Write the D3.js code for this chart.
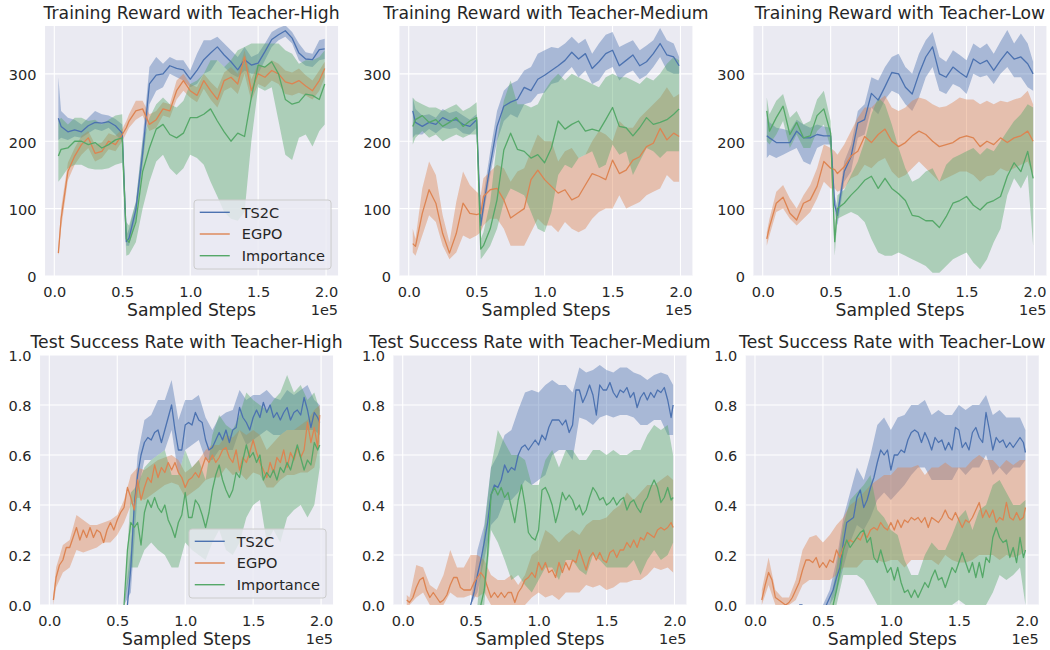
<!DOCTYPE html>
<html>
<head>
<meta charset="utf-8">
<script src="https://cdn.jsdelivr.net/npm/d3@7"></script>
<style>
body { margin: 0; background: #fff; }
svg { font-family: "DejaVu Sans", sans-serif; }
</style>
</head>
<body>
<script>
// x positions, in units of 1e5 sampled steps
var xTop = [0.03,0.05,0.1,0.15,0.2,0.25,0.3,0.35,0.4,0.45,0.5,0.53,0.55,0.6,0.65,0.7,0.75,0.8,0.85,0.9,0.95,1.0,1.05,1.1,1.15,1.2,1.25,1.3,1.35,1.4,1.45,1.5,1.55,1.6,1.65,1.7,1.75,1.8,1.85,1.9,1.95,1.99];
var xFine = [0.03,0.05,0.075,0.1,0.125,0.15,0.175,0.2,0.225,0.25,0.275,0.3,0.325,0.35,0.375,0.4,0.425,0.45,0.475,0.5,0.525,0.55,0.575,0.6,0.625,0.65,0.675,0.7,0.725,0.75,0.775,0.8,0.825,0.85,0.875,0.9,0.925,0.95,0.975,1.0,1.025,1.05,1.075,1.1,1.125,1.15,1.175,1.2,1.225,1.25,1.275,1.3,1.325,1.35,1.375,1.4,1.425,1.45,1.475,1.5,1.525,1.55,1.575,1.6,1.625,1.65,1.675,1.7,1.725,1.75,1.775,1.8,1.825,1.85,1.875,1.9,1.925,1.95,1.975,1.99];
var xBand = [0.03,0.05,0.1,0.15,0.2,0.25,0.3,0.35,0.4,0.45,0.5,0.55,0.6,0.65,0.7,0.75,0.8,0.85,0.9,0.95,1.0,1.05,1.1,1.15,1.2,1.25,1.3,1.35,1.4,1.45,1.5,1.55,1.6,1.65,1.7,1.75,1.8,1.85,1.9,1.95,1.99];

var xTicks = [0, 0.5, 1.0, 1.5, 2.0];
var rewardTicks = [0, 100, 200, 300];
var rateTicks = [0, 0.2, 0.4, 0.6, 0.8, 1.0];
var names = ["TS2C", "EGPO", "Importance"];
var titles = ["Training Reward with Teacher-High", "Training Reward with Teacher-Medium", "Training Reward with Teacher-Low",
              "Test Success Rate with Teacher-High", "Test Success Rate with Teacher-Medium", "Test Success Rate with Teacher-Low"];

// Training reward, teacher high
var p1ts   = [234,222,214,217,214,223,228,227,229,223,212,51,56,98,182,285,298,300,312,308,306,292,305,321,331,340,328,318,306,321,313,316,333,351,358,364,353,331,322,321,336,337];
var p1tsLo = [202,205,202,207,205,212,218,215,220,210,200,45,45,85,165,255,275,280,300,295,290,280,285,300,305,320,310,300,295,305,300,300,320,340,350,355,345,320,312,310,320,322];
var p1tsHi = [295,245,235,232,225,235,245,240,238,233,225,60,70,110,205,310,325,315,325,320,320,305,330,350,350,355,345,335,325,340,325,330,345,362,368,372,362,345,332,330,350,352];
var p1eg   = [34,85,155,178,195,205,182,185,200,195,210,220,230,245,248,225,232,248,245,275,290,275,268,290,275,262,290,295,285,325,275,300,295,305,300,288,285,290,282,275,290,308];
var p1egLo = [30,70,142,165,180,190,170,175,188,185,200,212,220,232,238,215,220,238,235,262,275,265,258,278,262,250,275,280,270,300,260,285,280,290,285,270,268,272,268,262,275,295];
var p1egHi = [40,100,168,190,208,215,195,198,212,208,218,230,240,260,260,240,245,258,255,290,300,285,280,300,288,278,302,310,300,335,292,315,310,320,315,305,302,308,298,290,305,318];
var p1im   = [178,188,190,200,200,195,198,190,195,202,205,55,50,80,155,190,218,225,210,205,212,235,235,240,248,230,214,200,212,207,265,313,310,318,300,262,255,258,270,268,262,285];
var p1imLo = [140,145,160,165,165,160,158,158,160,165,168,30,32,50,100,140,170,180,160,150,160,180,175,165,140,118,95,85,82,95,200,280,275,280,230,180,172,205,210,192,215,225];
var p1imHi = [230,235,225,235,235,230,232,225,232,238,240,80,75,110,200,235,255,265,255,250,260,285,290,300,320,320,310,320,335,340,345,345,345,345,345,335,330,315,320,320,325,335];

// Training reward, teacher medium
var p2ts   = [245,228,222,228,225,235,230,232,225,222,232,75,103,165,222,252,258,262,280,275,292,298,305,312,320,332,322,330,308,318,330,335,312,320,328,312,318,330,345,328,325,312];
var p2tsLo = [205,210,210,218,212,220,218,220,212,210,220,65,90,150,200,230,240,235,255,258,270,272,285,288,300,310,295,305,285,290,305,310,290,300,305,292,298,310,325,305,300,300];
var p2tsHi = [265,248,238,240,235,248,242,245,238,232,240,90,120,185,245,275,285,290,305,310,330,335,340,338,345,355,345,352,330,345,358,362,340,345,350,335,342,350,368,350,345,325];
var p2eg   = [48,44,93,128,108,63,34,63,108,93,91,93,118,128,130,113,86,93,100,143,157,143,133,123,128,113,118,135,152,148,143,172,152,157,172,177,192,197,219,202,212,207];
var p2egLo = [35,30,60,90,80,45,25,35,60,55,60,65,75,85,85,70,45,45,45,65,85,75,75,65,80,70,65,70,85,95,100,100,120,100,105,110,120,125,130,150,140,140];
var p2egHi = [70,55,130,170,150,90,50,110,155,135,125,120,145,155,165,160,140,155,160,185,210,200,200,170,185,190,175,180,200,215,210,200,230,220,220,235,245,255,265,280,265,270];
var p2im   = [222,232,238,228,232,222,228,235,222,230,235,40,45,70,113,187,212,188,185,175,180,168,190,230,218,225,230,215,218,215,232,250,222,220,208,220,235,225,228,232,240,248];
var p2imLo = [195,205,215,205,210,200,205,210,205,210,210,25,30,45,70,110,130,125,120,95,70,65,95,150,165,160,175,180,185,160,165,195,180,185,150,170,190,185,175,185,185,185];
var p2imHi = [265,260,255,250,250,245,250,255,245,250,258,55,65,110,200,260,290,255,255,250,255,275,290,300,290,300,295,290,285,280,295,300,295,295,290,285,295,290,300,315,325,320];

// Training reward, teacher low
var p3ts   = [208,205,198,198,198,215,205,205,210,208,208,105,90,155,177,227,232,271,261,281,302,300,280,270,300,325,340,300,295,310,302,295,322,315,320,305,320,333,322,325,315,300];
var p3tsLo = [175,180,175,180,185,190,170,165,190,195,195,95,75,140,155,205,210,250,240,262,275,270,255,245,265,295,310,275,270,285,280,270,300,295,298,285,300,310,295,295,280,275];
var p3tsHi = [240,228,220,218,215,232,225,220,225,222,220,120,100,170,195,245,255,295,290,310,325,330,310,300,330,350,362,325,318,335,328,320,345,338,345,330,348,365,345,360,345,318];
var p3eg   = [55,73,108,117,93,83,108,113,133,170,160,158,152,162,178,185,207,198,210,218,200,192,198,208,215,210,200,192,195,198,205,208,205,192,200,195,205,198,205,208,215,200];
var p3egLo = [45,60,95,100,85,75,85,95,115,140,130,130,125,130,145,150,165,160,170,175,155,145,150,160,170,160,150,140,145,150,155,155,150,140,148,150,160,155,160,165,170,150];
var p3egHi = [65,85,125,135,115,100,120,135,160,195,190,185,180,195,215,235,250,250,260,268,250,245,250,260,265,262,255,250,252,258,265,262,262,255,260,255,260,258,262,265,275,255];
var p3im   = [245,215,235,252,210,228,205,208,238,248,212,51,100,108,120,130,142,148,130,145,130,122,112,90,88,82,82,72,88,108,112,118,105,98,108,112,118,148,168,155,185,145];
var p3imLo = [200,195,210,230,190,210,190,190,215,225,190,30,85,90,95,90,80,55,35,30,30,35,30,25,20,15,5,5,15,25,30,35,20,10,25,50,70,120,145,130,150,45];
var p3imHi = [265,240,260,270,235,245,225,230,262,275,230,70,120,128,150,170,200,240,265,255,225,190,160,140,145,155,160,140,165,175,180,185,190,180,190,185,200,215,230,240,255,250];

// Test success rate, teacher high (means on xFine, bands on xBand)
var p4ts = [null,null,null,null,null,null,null,null,null,null,
            null,null,null,null,null,null,null,null,null,null,
            null,null,0.0,0.15,0.40,0.52,0.60,0.65,0.67,0.66,
            0.69,0.70,0.65,0.70,0.75,0.80,0.70,0.62,0.62,0.72,
            0.73,0.72,0.77,0.74,0.73,0.66,0.62,0.63,0.66,0.69,
            0.66,0.70,0.65,0.70,0.71,0.79,0.75,0.73,0.70,0.75,
            0.78,0.75,0.81,0.77,0.80,0.75,0.77,0.74,0.77,0.79,
            0.74,0.77,0.78,0.76,0.83,0.78,0.71,0.77,0.75,0.73];
var p4tsLo = [null,null,null,null,null,null,null,null,null,null,null,0,
              0.05,0.45,0.58,0.58,0.60,0.62,0.70,0.52,0.62,0.64,0.66,0.58,0.58,0.62,0.62,0.62,0.70,0.64,0.66,0.68,0.70,0.68,0.68,0.70,0.70,0.70,0.70,0.70,0.68];
var p4tsHi = [null,null,null,null,null,null,null,null,null,null,null,0,
              0.22,0.60,0.74,0.76,0.82,0.82,0.90,0.74,0.82,0.82,0.84,0.75,0.70,0.75,0.77,0.78,0.86,0.82,0.84,0.84,0.86,0.83,0.82,0.86,0.84,0.86,0.88,0.82,0.80];
var p4eg = [0.02,0.11,0.16,0.18,0.23,0.23,0.27,0.31,0.26,0.30,
            0.27,0.31,0.27,0.30,0.29,0.25,0.30,0.33,0.30,0.34,
            0.37,0.39,0.47,0.43,0.38,0.50,0.42,0.47,0.51,0.49,
            0.56,0.51,0.55,0.53,0.57,0.54,0.57,0.53,0.51,0.47,
            0.50,0.51,0.53,0.51,0.55,0.59,0.57,0.60,0.57,0.59,
            0.62,0.63,0.59,0.57,0.62,0.54,0.59,0.57,0.61,0.66,
            0.61,0.57,0.54,0.51,0.57,0.53,0.59,0.57,0.62,0.55,
            0.61,0.58,0.63,0.59,0.62,0.73,0.65,0.71,0.63,0.76];
var p4egLo = [0.0,0.07,0.13,0.15,0.22,0.21,0.22,0.23,0.25,0.25,0.28,0.33,0.40,0.43,0.42,0.44,0.46,0.48,0.49,0.48,
              0.43,0.45,0.47,0.50,0.51,0.51,0.55,0.52,0.53,0.50,0.53,0.52,0.47,0.47,0.50,0.52,0.52,0.53,0.53,0.55,0.65];
var p4egHi = [0.04,0.15,0.24,0.26,0.36,0.34,0.32,0.32,0.33,0.34,0.36,0.42,0.52,0.55,0.54,0.56,0.58,0.59,0.60,0.58,
              0.53,0.55,0.58,0.62,0.64,0.64,0.68,0.67,0.70,0.68,0.70,0.68,0.62,0.65,0.68,0.70,0.70,0.72,0.74,0.78,0.80];
var p4im = [null,null,null,null,null,null,null,null,null,null,
            null,null,null,null,null,null,null,null,null,null,
            null,0.0,0.22,0.33,0.31,0.33,0.24,0.37,0.42,0.39,
            0.43,0.39,0.37,0.40,0.34,0.31,0.27,0.33,0.36,0.45,
            0.35,0.35,0.42,0.40,0.36,0.31,0.37,0.46,0.52,0.56,
            0.50,0.46,0.43,0.46,0.53,0.51,0.58,0.64,0.59,0.61,
            0.57,0.60,0.50,0.53,0.51,0.54,0.50,0.55,0.53,0.57,
            0.54,0.59,0.64,0.59,0.54,0.58,0.56,0.65,0.62,0.64];
var p4imLo = [null,null,null,null,null,null,null,null,null,null,null,0,
              0.15,0.15,0.22,0.25,0.22,0.20,0.15,0.15,0.25,0.22,0.20,0.18,0.25,0.30,0.22,0.20,0.25,0.35,0.40,0.42,0.25,0.30,0.25,0.35,0.38,0.40,0.35,0.40,0.55];
var p4imHi = [null,null,null,null,null,null,null,null,null,null,null,0,
              0.45,0.48,0.55,0.58,0.60,0.62,0.52,0.52,0.62,0.55,0.58,0.50,0.68,0.76,0.72,0.70,0.76,0.85,0.82,0.80,0.78,0.82,0.85,0.92,0.85,0.88,0.82,0.85,0.78];

// Test success rate, teacher medium
var p5ts = [null,null,null,null,null,null,null,null,null,null,
            null,null,null,null,null,null,null,null,null,0.0,
            0.05,0.12,0.18,0.25,0.33,0.44,0.48,0.47,0.50,0.56,
            0.53,0.55,0.54,0.60,0.63,0.64,0.62,0.64,0.66,0.64,
            0.68,0.66,0.71,0.74,0.74,0.74,0.72,0.74,0.69,0.72,
            0.86,0.86,0.81,0.84,0.88,0.84,0.76,0.88,0.86,0.86,
            0.89,0.85,0.83,0.86,0.85,0.87,0.83,0.85,0.79,0.83,
            0.85,0.82,0.85,0.83,0.86,0.85,0.87,0.82,0.75,0.80];
var p5tsLo = [null,null,null,null,null,null,null,null,null,null,0,0.05,
              0.18,0.32,0.35,0.42,0.42,0.45,0.50,0.48,0.50,0.52,0.60,0.62,0.62,0.58,0.75,0.74,0.72,0.75,0.76,0.75,0.76,0.76,0.75,0.72,0.72,0.74,0.74,0.68,0.68];
var p5tsHi = [null,null,null,null,null,null,null,null,null,null,0,0.22,
              0.32,0.55,0.60,0.68,0.70,0.78,0.85,0.86,0.85,0.88,0.90,0.88,0.88,0.85,0.95,0.93,0.94,0.96,0.94,0.93,0.95,0.95,0.93,0.92,0.90,0.92,0.93,0.92,0.88];
var p5eg = [0.02,0.01,0.03,0.07,0.10,0.11,0.06,0.03,0.05,0.03,
            0.01,0.02,0.04,0.08,0.11,0.11,0.07,0.06,0.06,0.06,
            0.09,0.11,0.13,0.11,0.07,0.03,0.05,0.03,0.05,0.03,
            0.05,0.05,0.01,0.05,0.07,0.10,0.11,0.13,0.11,0.17,
            0.14,0.17,0.13,0.14,0.11,0.17,0.13,0.17,0.14,0.18,
            0.17,0.22,0.18,0.14,0.19,0.21,0.18,0.21,0.18,0.17,
            0.21,0.22,0.19,0.22,0.22,0.25,0.23,0.26,0.23,0.27,
            0.26,0.29,0.28,0.27,0.30,0.31,0.30,0.31,0.33,0.31];
var p5egLo = [0.0,0.0,0.03,0.05,0.0,0.0,0.0,0.05,0.03,0.03,0.04,0.03,0.05,0.0,0.0,0.0,0.0,0.0,0.0,0.03,
              0.05,0.03,0.04,0.02,0.05,0.05,0.05,0.08,0.07,0.08,0.06,0.07,0.09,0.09,0.10,0.10,0.12,0.15,0.14,0.15,0.13];
var p5egHi = [0.04,0.03,0.16,0.15,0.08,0.06,0.12,0.22,0.15,0.15,0.20,0.20,0.18,0.12,0.10,0.10,0.12,0.08,0.12,0.20,
              0.22,0.30,0.28,0.25,0.28,0.30,0.28,0.32,0.34,0.34,0.35,0.38,0.40,0.45,0.42,0.45,0.48,0.48,0.50,0.52,0.50];
var p5im = [null,null,null,null,null,null,null,null,null,null,
            null,null,null,null,null,null,null,null,null,null,
            null,null,0.0,0.06,0.20,0.44,0.47,0.44,0.47,0.43,
            0.45,0.39,0.33,0.42,0.48,0.40,0.29,0.27,0.26,0.30,
            0.46,0.47,0.44,0.40,0.33,0.38,0.45,0.42,0.44,0.42,
            0.38,0.40,0.36,0.38,0.43,0.47,0.45,0.42,0.43,0.40,
            0.41,0.43,0.40,0.42,0.43,0.38,0.41,0.42,0.39,0.37,
            0.41,0.43,0.47,0.50,0.47,0.41,0.43,0.47,0.42,0.43];
var p5imLo = [null,null,null,null,null,null,null,null,null,null,null,0,
              0.0,0.30,0.25,0.18,0.10,0.12,0.08,0.05,0.10,0.15,0.15,0.10,0.18,0.18,0.14,0.12,0.20,0.18,0.15,0.15,0.15,0.15,0.18,0.12,0.18,0.22,0.18,0.20,0.25];
var p5imHi = [null,null,null,null,null,null,null,null,null,null,null,0,
              0.30,0.55,0.70,0.65,0.60,0.60,0.58,0.48,0.48,0.58,0.62,0.55,0.62,0.62,0.58,0.58,0.62,0.62,0.60,0.62,0.60,0.60,0.62,0.62,0.68,0.72,0.70,0.72,0.60];

// Test success rate, teacher low
var p6ts = [null,null,null,null,null,null,null,null,null,null,
            null,null,0.0,0.0,null,null,null,null,null,null,
            0.0,0.03,0.06,0.11,0.15,0.25,0.33,0.34,0.35,0.43,
            0.46,0.39,0.42,0.47,0.51,0.57,0.62,0.60,0.62,0.54,
            0.60,0.60,0.62,0.61,0.66,0.69,0.70,0.69,0.65,0.69,
            0.66,0.62,0.67,0.65,0.66,0.62,0.65,0.62,0.71,0.70,
            0.63,0.65,0.62,0.69,0.71,0.67,0.65,0.77,0.70,0.62,
            0.67,0.65,0.66,0.63,0.65,0.63,0.65,0.67,0.65,0.61];
var p6tsLo = [null,null,null,null,null,null,null,null,null,null,0,0.0,
              0.05,0.15,0.25,0.32,0.30,0.35,0.42,0.45,0.42,0.45,0.48,0.52,0.55,0.55,0.50,0.50,0.50,0.50,0.55,0.52,0.55,0.55,0.60,0.52,0.55,0.52,0.55,0.55,0.58];
var p6tsHi = [null,null,null,null,null,null,null,null,null,null,0,0.06,
              0.18,0.35,0.45,0.55,0.50,0.60,0.72,0.75,0.70,0.75,0.76,0.80,0.80,0.82,0.76,0.78,0.76,0.76,0.80,0.78,0.80,0.80,0.84,0.76,0.78,0.75,0.75,0.75,0.70];
var p6eg = [null,0.02,0.08,0.13,0.10,0.03,0.02,0.01,0.0,0.01,
            0.03,0.06,0.09,0.14,0.18,0.18,0.17,0.19,0.15,0.17,
            0.15,0.18,0.17,0.22,0.19,0.23,0.25,0.26,0.25,0.27,
            0.26,0.29,0.27,0.30,0.31,0.30,0.33,0.31,0.30,0.33,
            0.30,0.34,0.31,0.34,0.33,0.35,0.34,0.35,0.33,0.35,
            0.31,0.35,0.34,0.33,0.35,0.38,0.35,0.34,0.37,0.34,
            0.31,0.34,0.33,0.35,0.38,0.41,0.35,0.38,0.35,0.38,
            0.33,0.35,0.34,0.41,0.35,0.34,0.37,0.34,0.35,0.39];
var p6egLo = [null,0.0,0.08,0.0,0.0,0.0,0.02,0.08,0.10,0.10,0.10,0.10,0.12,0.15,0.15,0.15,0.18,0.18,0.18,0.17,
              0.18,0.18,0.15,0.18,0.18,0.18,0.18,0.16,0.20,0.18,0.17,0.17,0.18,0.20,0.20,0.20,0.18,0.20,0.19,0.20,0.22];
var p6egHi = [null,0.06,0.19,0.06,0.03,0.03,0.10,0.22,0.27,0.28,0.25,0.28,0.32,0.35,0.40,0.42,0.45,0.48,0.50,0.52,
              0.52,0.55,0.55,0.55,0.56,0.52,0.55,0.55,0.57,0.55,0.55,0.55,0.58,0.60,0.58,0.58,0.55,0.58,0.56,0.58,0.58];
var p6im = [null,null,null,null,null,null,null,null,null,null,
            null,null,null,null,null,null,null,null,null,null,
            null,null,0.0,0.06,0.13,0.22,0.26,0.23,0.25,0.27,
            0.29,0.30,0.25,0.27,0.19,0.17,0.22,0.17,0.13,0.15,
            0.10,0.15,0.09,0.05,0.06,0.03,0.06,0.03,0.06,0.09,
            0.07,0.11,0.14,0.10,0.11,0.07,0.11,0.15,0.13,0.17,
            0.21,0.17,0.13,0.17,0.11,0.17,0.11,0.19,0.17,0.27,
            0.31,0.27,0.25,0.26,0.19,0.23,0.17,0.27,0.19,0.22];
var p6imLo = [null,null,null,null,null,null,null,null,null,null,null,0,
              0.0,0.12,0.12,0.12,0.10,0.05,0.0,0.0,0.0,0.0,0.0,0.0,0.0,0.0,0.0,0.0,0.0,0.0,0.02,0.0,0.0,0.0,0.0,0.05,0.12,0.10,0.12,0.15,0.0];
var p6imHi = [null,null,null,null,null,null,null,null,null,null,null,0,
              0.15,0.32,0.42,0.45,0.48,0.52,0.38,0.35,0.30,0.28,0.18,0.12,0.12,0.20,0.25,0.22,0.22,0.28,0.35,0.38,0.30,0.38,0.40,0.48,0.50,0.45,0.40,0.40,0.42];

var colors = ["#4c72b0", "#dd8452", "#55a868"];
var textColor = "#262626";
var pw = 293, ph = 250;
var xDomain = [-0.068, 2.088];

var panels = [
	{left: 45.05, top: 26, xs: xTop, bxs: xTop, yMax: 371, ticks: rewardTicks, fmt: d3.format("d"), legend: true,
	 series: [[p1ts, p1tsLo, p1tsHi], [p1eg, p1egLo, p1egHi], [p1im, p1imLo, p1imHi]]},
	{left: 399.45, top: 26, xs: xTop, bxs: xTop, yMax: 371, ticks: rewardTicks, fmt: d3.format("d"), legend: false,
	 series: [[p2ts, p2tsLo, p2tsHi], [p2eg, p2egLo, p2egHi], [p2im, p2imLo, p2imHi]]},
	{left: 753.45, top: 26, xs: xTop, bxs: xTop, yMax: 371, ticks: rewardTicks, fmt: d3.format("d"), legend: false,
	 series: [[p3ts, p3tsLo, p3tsHi], [p3eg, p3egLo, p3egHi], [p3im, p3imLo, p3imHi]]},
	{left: 40.05, top: 355, xs: xFine, bxs: xBand, yMax: 1, ticks: rateTicks, fmt: d3.format(".1f"), legend: true,
	 series: [[p4ts, p4tsLo, p4tsHi], [p4eg, p4egLo, p4egHi], [p4im, p4imLo, p4imHi]]},
	{left: 393.45, top: 355, xs: xFine, bxs: xBand, yMax: 1, ticks: rateTicks, fmt: d3.format(".1f"), legend: false,
	 series: [[p5ts, p5tsLo, p5tsHi], [p5eg, p5egLo, p5egHi], [p5im, p5imLo, p5imHi]]},
	{left: 745.75, top: 355, xs: xFine, bxs: xBand, yMax: 1, ticks: rateTicks, fmt: d3.format(".1f"), legend: false,
	 series: [[p6ts, p6tsLo, p6tsHi], [p6eg, p6egLo, p6egHi], [p6im, p6imLo, p6imHi]]}
];

var svg = d3.select("body").append("svg")
	.attr("width", 1050)
	.attr("height", 650);

panels.forEach(function(p, i) {
	var x = d3.scaleLinear().domain(xDomain).range([0, pw]);
	var y = d3.scaleLinear().domain([0, p.yMax]).range([ph, 0]);

	var g = svg.append("g")
		.attr("transform", "translate(" + p.left + "," + p.top + ")");

	// Axes background and white grid
	g.append("rect")
		.attr("width", pw)
		.attr("height", ph)
		.attr("fill", "#eaeaf2");

	g.selectAll(".gx")
		.data(xTicks)
		.enter().append("line")
		.attr("x1", function(d) { return x(d); })
		.attr("x2", function(d) { return x(d); })
		.attr("y1", 0)
		.attr("y2", ph)
		.attr("stroke", "#fff")
		.attr("stroke-width", 1.1);

	g.selectAll(".gy")
		.data(p.ticks)
		.enter().append("line")
		.attr("x1", 0)
		.attr("x2", pw)
		.attr("y1", function(d) { return y(d); })
		.attr("y2", function(d) { return y(d); })
		.attr("stroke", "#fff")
		.attr("stroke-width", 1.1);

	g.append("clipPath")
		.attr("id", "clip" + i)
		.append("rect")
		.attr("width", pw)
		.attr("height", ph);

	var plot = g.append("g").attr("clip-path", "url(#clip" + i + ")");

	// Confidence bands first, then the mean lines on top
	p.series.forEach(function(s, j) {
		var lo = s[1], hi = s[2];
		var area = d3.area()
			.defined(function(d, k) { return lo[k] != null; })
			.x(function(d) { return x(d); })
			.y0(function(d, k) { return y(lo[k]); })
			.y1(function(d, k) { return y(hi[k]); });
		plot.append("path")
			.datum(p.bxs)
			.attr("d", area)
			.attr("fill", colors[j])
			.attr("fill-opacity", 0.42);
	});

	p.series.forEach(function(s, j) {
		var m = s[0];
		var line = d3.line()
			.defined(function(d, k) { return m[k] != null; })
			.x(function(d) { return x(d); })
			.y(function(d, k) { return y(m[k]); });
		plot.append("path")
			.datum(p.xs)
			.attr("d", line)
			.attr("fill", "none")
			.attr("stroke", colors[j])
			.attr("stroke-width", 1.3)
			.attr("stroke-linejoin", "round");
	});

	// Axes (no tick marks, seaborn darkgrid style)
	var xAxis = g.append("g")
		.attr("transform", "translate(0," + ph + ")")
		.call(d3.axisBottom(x).tickValues(xTicks).tickFormat(d3.format(".1f")).tickSize(0).tickPadding(10.5));
	var yAxis = g.append("g")
		.call(d3.axisLeft(y).tickValues(p.ticks).tickFormat(p.fmt).tickSize(0).tickPadding(8.5));
	[xAxis, yAxis].forEach(function(a) {
		a.select(".domain").remove();
		a.attr("font-family", null).attr("font-size", null);
		a.selectAll("text")
			.attr("fill", textColor)
			.style("font-size", "14.5px");
	});
	yAxis.selectAll("text").attr("dy", "0.4em");

	g.append("text")
		.attr("x", pw / 2)
		.attr("y", -7)
		.attr("text-anchor", "middle")
		.attr("fill", textColor)
		.style("font-size", "17.2px")
		.text(titles[i]);

	g.append("text")
		.attr("x", pw / 2)
		.attr("y", ph + 40)
		.attr("text-anchor", "middle")
		.attr("fill", textColor)
		.style("font-size", "17.2px")
		.text("Sampled Steps");

	g.append("text")
		.attr("x", pw)
		.attr("y", ph + 38.5)
		.attr("text-anchor", "end")
		.attr("fill", textColor)
		.style("font-size", "14.5px")
		.text("1e5");

	if (p.legend) {
		var lw = 137, lh = 69;
		var lg = g.append("g")
			.attr("transform", "translate(" + (pw - 7 - lw) + "," + (ph - 7 - lh) + ")");
		lg.append("rect")
			.attr("width", lw)
			.attr("height", lh)
			.attr("rx", 3)
			.attr("fill", "#eaeaf2")
			.attr("fill-opacity", 0.8)
			.attr("stroke", "#cccccc")
			.attr("stroke-width", 1);
		names.forEach(function(n, j) {
			var yy = 12.3 + j * 21.7;
			lg.append("line")
				.attr("x1", 5.7)
				.attr("x2", 35.7)
				.attr("y1", yy)
				.attr("y2", yy)
				.attr("stroke", colors[j])
				.attr("stroke-width", 1.4);
			lg.append("text")
				.attr("x", 47.7)
				.attr("y", yy)
				.attr("dy", "0.36em")
				.attr("fill", textColor)
				.style("font-size", "14.5px")
				.text(n);
		});
	}
});
</script>
</body>
</html>
